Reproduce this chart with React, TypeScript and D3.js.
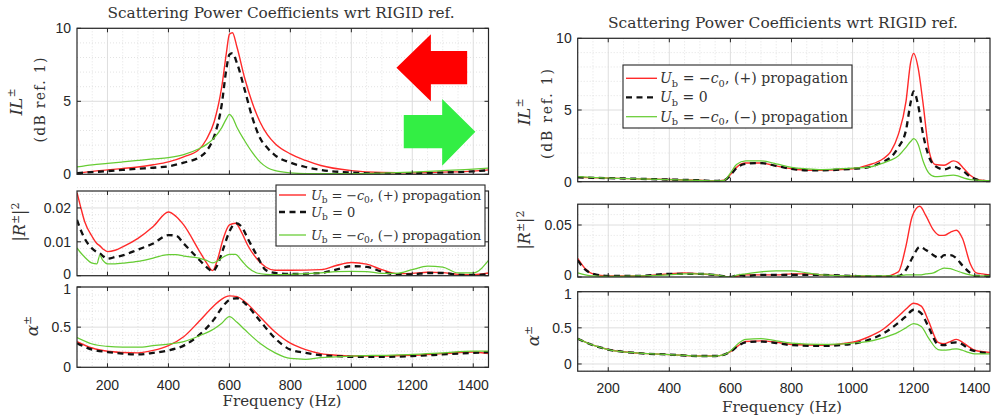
import React from 'react';
import * as d3 from 'd3';

const SANS = '"Liberation Sans", Arial, sans-serif';
const SERIF = '"DejaVu Serif", "Liberation Serif", serif';
const AXIS = '#262626';
const TEXT = '#333333';
const RED = '#ff2a2a';
const GREEN = '#66cc33';
const BLACK = '#111111';

const xTickValues = [200, 400, 600, 800, 1000, 1200, 1400];

// ---------------- LEFT PANEL ----------------
const freqLeftIL = [100,150,200,250,300,350,400,450,500,525,550,575,590,600,610,625,650,675,700,725,750,800,850,900,1000,1100,1200,1300,1400,1450];
const ilLeftPlus = [0.07,0.2,0.3,0.4,0.5,0.65,0.85,1.2,1.7,2.4,3.6,6.0,8.3,9.6,9.7,8.7,6.6,4.9,3.6,2.7,2.1,1.4,0.95,0.6,0.25,0.12,0.1,0.15,0.22,0.3];
const ilLeftZero = [0.08,0.15,0.22,0.3,0.38,0.45,0.55,0.8,1.15,1.6,2.6,4.8,7.2,8.2,8.3,7.6,5.8,3.9,2.5,1.8,1.3,0.8,0.5,0.3,0.12,0.05,0.08,0.12,0.2,0.28];
const ilLeftMinus = [0.5,0.65,0.75,0.85,0.95,1.05,1.15,1.35,1.75,2.05,2.5,3.2,3.8,4.1,3.9,3.2,2.3,1.5,0.85,0.45,0.25,0.1,0.05,0.05,0.05,0.08,0.15,0.25,0.35,0.42];

const freqLeftR = [100,110,125,150,165,175,185,200,225,250,300,350,400,425,450,500,525,545,560,580,600,620,640,660,690,720,750,800,900,950,1000,1050,1100,1150,1200,1250,1300,1350,1400,1450];
const rLeftPlus = [0.0245,0.021,0.016,0.0115,0.0095,0.0088,0.0079,0.0071,0.0075,0.0085,0.011,0.0145,0.0188,0.0175,0.015,0.0075,0.0038,0.0015,0.0045,0.011,0.015,0.0155,0.0128,0.009,0.005,0.0025,0.0016,0.0016,0.0018,0.003,0.0039,0.0034,0.0018,0.0006,0.0007,0.001,0.0009,0.0004,0.0003,0.0008];
const rLeftZero = [0.0165,0.014,0.011,0.008,0.007,0.0066,0.0058,0.005,0.0055,0.006,0.0077,0.0095,0.012,0.0118,0.0095,0.0048,0.0025,0.0013,0.003,0.008,0.013,0.0155,0.0145,0.011,0.006,0.0016,0.0008,0.0005,0.0008,0.0018,0.0028,0.0026,0.0012,0.0004,0.0004,0.0008,0.0008,0.0003,0.0002,0.0005];
const rLeftMinus = [0.0082,0.007,0.0055,0.0037,0.0035,0.006,0.0045,0.0035,0.0035,0.0037,0.0042,0.0052,0.0062,0.0062,0.0058,0.0052,0.0045,0.0038,0.0043,0.0055,0.0063,0.0063,0.0045,0.0025,0.0008,0.0004,0.0003,0.0004,0.0008,0.0012,0.0013,0.0012,0.0007,0.0007,0.0018,0.0028,0.0025,0.0008,0.0008,0.0045];

const freqLeftA = [100,150,200,250,300,350,400,450,500,550,575,600,625,650,700,750,800,850,900,950,1000,1100,1200,1300,1400,1450];
const aLeftPlus = [0.32,0.24,0.2,0.185,0.18,0.21,0.27,0.38,0.57,0.77,0.85,0.89,0.88,0.82,0.63,0.44,0.3,0.22,0.17,0.15,0.14,0.14,0.15,0.17,0.19,0.17];
const aLeftZero = [0.3,0.22,0.19,0.17,0.16,0.18,0.21,0.27,0.4,0.6,0.74,0.84,0.86,0.8,0.58,0.36,0.22,0.18,0.15,0.14,0.13,0.13,0.14,0.16,0.18,0.19];
const aLeftMinus = [0.37,0.29,0.26,0.25,0.25,0.27,0.29,0.32,0.39,0.48,0.55,0.63,0.56,0.47,0.3,0.18,0.11,0.1,0.12,0.13,0.14,0.15,0.16,0.18,0.2,0.2];

// ---------------- RIGHT PANEL ----------------
const freqRightIL = [100,200,300,400,500,550,580,600,620,650,700,750,800,850,900,1000,1050,1100,1125,1150,1175,1190,1200,1215,1230,1250,1270,1300,1330,1345,1365,1385,1415,1450];
const ilRightPlus = [0.3,0.25,0.2,0.15,0.1,0.05,0.1,0.5,1.0,1.3,1.3,1.1,0.9,0.8,0.8,0.9,1.15,1.6,2.1,3.3,5.6,8.3,8.95,7.9,5.6,2.2,1.2,1.15,1.45,1.35,0.9,0.45,0.12,0.05];
const ilRightZero = [0.3,0.25,0.2,0.15,0.1,0.05,0.1,0.45,0.95,1.25,1.3,1.1,0.9,0.8,0.8,0.9,1.0,1.4,1.7,2.4,3.6,5.5,6.3,5.3,3.4,1.75,1.1,0.85,1.05,0.95,0.7,0.35,0.1,0.03];
const ilRightMinus = [0.35,0.25,0.2,0.15,0.1,0.05,0.1,0.6,1.2,1.45,1.45,1.25,1.0,0.9,0.85,0.95,1.0,1.3,1.5,1.8,2.4,2.8,3.0,2.6,1.5,0.6,0.35,0.4,0.45,0.4,0.25,0.15,0.1,0.08];

const freqRightR = [100,125,150,200,300,400,450,500,550,600,625,650,700,750,800,850,900,1000,1100,1150,1175,1195,1220,1240,1265,1285,1300,1320,1340,1360,1385,1405,1425,1450];
const rRightPlus = [0.018,0.008,0.003,0.001,0.001,0.003,0.004,0.003,0.002,0.0,0.001,0.002,0.002,0.002,0.003,0.003,0.002,0.001,0.0005,0.005,0.03,0.058,0.068,0.059,0.045,0.04,0.04,0.043,0.045,0.037,0.013,0.004,0.003,0.002];
const rRightZero = [0.016,0.007,0.003,0.001,0.001,0.003,0.003,0.003,0.002,0.0,0.002,0.001,0.002,0.002,0.002,0.002,0.002,0.001,0.0005,0.001,0.007,0.018,0.029,0.026,0.021,0.018,0.021,0.021,0.018,0.011,0.004,0.001,0.001,0.001];
const rRightMinus = [0.004,0.002,0.001,0.0005,0.001,0.002,0.003,0.003,0.002,0.0,0.002,0.003,0.005,0.006,0.006,0.004,0.002,0.001,0.001,0.001,0.002,0.002,0.002,0.003,0.004,0.007,0.0085,0.008,0.006,0.004,0.002,0.001,0.001,0.001];

const freqRightA = [100,150,200,300,400,500,550,580,600,625,650,700,750,800,900,1000,1050,1100,1150,1175,1200,1225,1250,1280,1300,1320,1340,1360,1380,1400,1450];
const aRightPlus = [0.35,0.26,0.2,0.15,0.13,0.11,0.11,0.13,0.17,0.25,0.31,0.32,0.3,0.27,0.26,0.3,0.37,0.48,0.66,0.76,0.84,0.8,0.58,0.3,0.28,0.31,0.34,0.3,0.24,0.19,0.16];
const aRightZero = [0.35,0.26,0.2,0.15,0.13,0.11,0.11,0.13,0.17,0.25,0.3,0.31,0.29,0.26,0.25,0.28,0.33,0.42,0.57,0.66,0.75,0.7,0.5,0.27,0.26,0.29,0.3,0.27,0.21,0.18,0.15];
const aRightMinus = [0.35,0.26,0.2,0.15,0.13,0.11,0.11,0.13,0.18,0.28,0.34,0.35,0.32,0.29,0.27,0.29,0.31,0.36,0.44,0.5,0.56,0.52,0.35,0.2,0.19,0.2,0.21,0.19,0.16,0.14,0.14];

// arrows (in data units of the left IL subplot: [freq, IL])
const redArrow = [[1148,7.3],[1261,9.6],[1261,8.45],[1380,8.45],[1380,6.16],[1261,6.16],[1261,5.0]];
const greenArrow = [[1172,4.06],[1298,4.06],[1298,5.16],[1407,2.92],[1298,0.59],[1298,1.78],[1172,1.78]];

type SeriesDef = { values: number[]; color: string; width: number; dash?: string };

const mkSeries = (p: number[], z: number[], m: number[]): SeriesDef[] => [
  { values: p, color: RED, width: 1.4 },
  { values: z, color: BLACK, width: 2.3, dash: '6,4.5' },
  { values: m, color: GREEN, width: 1.25 },
];

type SubProps = {
  id: string;
  x0: number; x1: number; y0: number; y1: number;
  yDomain: [number, number];
  yTicks: number[];
  yMinorStep: number;
  freq: number[];
  series: SeriesDef[];
  xLabels: boolean;
  xLabelY?: number;
  labelShift?: Record<string, number>;
  children?: (x: d3.ScaleLinear<number, number>, y: d3.ScaleLinear<number, number>) => React.ReactNode;
};

function Subplot(p: SubProps) {
  const x = d3.scaleLinear().domain([100, 1450]).range([p.x0, p.x1]);
  const y = d3.scaleLinear().domain(p.yDomain).range([p.y1, p.y0]);
  const xMinor = d3.range(150, 1450, 50).filter((v) => v % 200 !== 0);
  const [lo, hi] = p.yDomain;
  const nMinor = Math.round((hi - lo) / p.yMinorStep);
  const yMinor: number[] = [];
  for (let i = 0; i <= nMinor; i++) {
    const v = lo + i * p.yMinorStep;
    if (!p.yTicks.some((t) => Math.abs(t - v) < p.yMinorStep * 0.01)) yMinor.push(v);
  }
  const line = (vals: number[]) =>
    d3.line<number>()
      .x((_, i) => x(p.freq[i]))
      .y((d) => y(d))
      .curve(d3.curveMonotoneX)(vals) || '';
  const tk = 4;
  return (
    <g>
      <defs>
        <clipPath id={p.id}>
          <rect x={p.x0} y={p.y0} width={p.x1 - p.x0} height={p.y1 - p.y0} />
        </clipPath>
      </defs>
      <rect x={p.x0} y={p.y0} width={p.x1 - p.x0} height={p.y1 - p.y0} fill="#fff" />
      {xMinor.map((v) => (
        <line key={'xm' + v} x1={x(v)} x2={x(v)} y1={p.y0} y2={p.y1} stroke="#d0d0d0" strokeWidth={0.6} strokeDasharray="1,2" />
      ))}
      {yMinor.map((v, i) => (
        <line key={'ym' + i} x1={p.x0} x2={p.x1} y1={y(v)} y2={y(v)} stroke="#d0d0d0" strokeWidth={0.6} strokeDasharray="1,2" />
      ))}
      {xTickValues.map((v) => (
        <line key={'xg' + v} x1={x(v)} x2={x(v)} y1={p.y0} y2={p.y1} stroke="#dadada" strokeWidth={0.9} />
      ))}
      {p.yTicks.map((v) => (
        <line key={'yg' + v} x1={p.x0} x2={p.x1} y1={y(v)} y2={y(v)} stroke="#dadada" strokeWidth={0.9} />
      ))}
      <g clipPath={`url(#${p.id})`}>
        {p.series.map((s, i) => (
          <path key={i} d={line(s.values)} fill="none" stroke={s.color} strokeWidth={s.width}
            strokeDasharray={s.dash} strokeLinejoin="round" />
        ))}
        {p.children && p.children(x, y)}
      </g>
      {xTickValues.map((v) => (
        <g key={'xt' + v}>
          <line x1={x(v)} x2={x(v)} y1={p.y1} y2={p.y1 - tk} stroke={AXIS} strokeWidth={1} />
          <line x1={x(v)} x2={x(v)} y1={p.y0} y2={p.y0 + tk} stroke={AXIS} strokeWidth={1} />
        </g>
      ))}
      {p.yTicks.map((v) => (
        <g key={'yt' + v}>
          <line x1={p.x0} x2={p.x0 + tk} y1={y(v)} y2={y(v)} stroke={AXIS} strokeWidth={1} />
          <line x1={p.x1} x2={p.x1 - tk} y1={y(v)} y2={y(v)} stroke={AXIS} strokeWidth={1} />
          <text x={p.x0 - 6} y={y(v) + ((p.labelShift && p.labelShift[String(v)]) || 0)} dy="0.36em" textAnchor="end" fontFamily={SANS} fontSize={14} fill={AXIS}>
            {String(v)}
          </text>
        </g>
      ))}
      {p.xLabels && xTickValues.map((v) => (
        <text key={'xl' + v} x={x(v)} y={p.xLabelY} textAnchor="middle" fontFamily={SANS} fontSize={14} fill={AXIS}>
          {v}
        </text>
      ))}
      <rect x={p.x0} y={p.y0} width={p.x1 - p.x0} height={p.y1 - p.y0} fill="none" stroke={AXIS} strokeWidth={1.2} />
    </g>
  );
}

function RotLabel({ cx, cy, size, len, children }: { cx: number; cy: number; size: number; len?: number; children: React.ReactNode }) {
  return (
    <text transform={`translate(${cx},${cy}) rotate(-90)`} textAnchor="middle" dy="0.35em"
      fontFamily={SERIF} fontSize={size} fill={TEXT} textLength={len} lengthAdjust={len ? 'spacing' : undefined}>
      {children}
    </text>
  );
}

function LegendText({ x, y, size, kind, len }: { x: number; y: number; size: number; kind: number; len?: number }) {
  const sub = size * 0.7;
  const d = size * 0.25;
  return (
    <text x={x} y={y} dy="0.35em" fontFamily={SERIF} fontSize={size} fill={TEXT} textLength={len} lengthAdjust={len ? 'spacing' : undefined}>
      <tspan fontStyle="italic">U</tspan>
      <tspan fontSize={sub} dy={d}>b</tspan>
      {kind === 0 ? (
        <tspan dy={-d}>{' = 0'}</tspan>
      ) : (
        <>
          <tspan dy={-d}>{' = \u2212'}</tspan>
          <tspan fontStyle="italic">c</tspan>
          <tspan fontSize={sub} dy={d}>0</tspan>
          <tspan dy={-d}>{kind === 1 ? ', (+) propagation' : ', (\u2212) propagation'}</tspan>
        </>
      )}
    </text>
  );
}

function Legend({ x, y, w, h, rows, lineX0, lineX1, textX, size, len }:
  { x: number; y: number; w: number; h: number; rows: number[]; lineX0: number; lineX1: number; textX: number; size: number; len: number }) {
  const kinds = [1, 0, -1];
  const styles = mkSeries([], [], []);
  return (
    <g>
      <rect x={x} y={y} width={w} height={h} fill="#fff" stroke={AXIS} strokeWidth={1.1} />
      {rows.map((ry, i) => (
        <g key={i}>
          <line x1={lineX0} x2={lineX1} y1={ry} y2={ry} stroke={styles[i].color} strokeWidth={styles[i].width} strokeDasharray={styles[i].dash} />
          <LegendText x={textX} y={ry} size={size} kind={kinds[i]} len={kinds[i] === 0 ? undefined : len} />
        </g>
      ))}
    </g>
  );
}

function SupLabel({ base, italic, sup }: { base: string; italic?: boolean; sup: string }) {
  return (
    <>
      <tspan fontStyle={italic ? 'italic' : undefined}>{base}</tspan>
      <tspan fontSize={11} dy={-7}>{sup}</tspan>
    </>
  );
}

const TITLE = 'Scattering Power Coefficients wrt RIGID ref.';

export default function App() {
  const arrowPath = (pts: number[][], x: d3.ScaleLinear<number, number>, y: d3.ScaleLinear<number, number>) =>
    'M' + pts.map((q) => `${x(q[0])},${y(q[1])}`).join('L') + 'Z';
  const rLabel = (
    <>
      <tspan>|</tspan><tspan fontStyle="italic">R</tspan><tspan fontSize={11} dy={-6}>±</tspan><tspan dy={6}>|</tspan><tspan fontSize={11} dy={-6}>2</tspan>
    </>
  );
  return (
    <svg width={991} height={419} style={{ position: 'absolute', left: 0, top: 0, display: 'block', background: '#fff' }}>
      <rect x={0} y={0} width={991} height={419} fill="#fff" />
      {/* LEFT PANEL */}
      <text x={281} y={18} textAnchor="middle" fontFamily={SERIF} fontSize={14} fill={TEXT} textLength={347} lengthAdjust="spacingAndGlyphs">{TITLE}</text>
      <Subplot id="lc1" x0={77} x1={488.5} y0={28.3} y1={174.3} yDomain={[0, 10]} yTicks={[0, 5, 10]} yMinorStep={1}
        freq={freqLeftIL} series={mkSeries(ilLeftPlus, ilLeftZero, ilLeftMinus)} xLabels={false}>
        {(x, y) => (
          <g>
            <path d={arrowPath(redArrow, x, y)} fill="#ff0000" />
            <path d={arrowPath(greenArrow, x, y)} fill="#33ee44" />
          </g>
        )}
      </Subplot>
      <Subplot id="lc2" x0={77} x1={488.5} y0={191} y1={275.7} yDomain={[0, 0.025]} yTicks={[0, 0.01, 0.02]} yMinorStep={0.002}
        freq={freqLeftR} series={mkSeries(rLeftPlus, rLeftZero, rLeftMinus)} xLabels={false} labelShift={{ '0': -2 }} />
      <Subplot id="lc3" x0={77} x1={488.5} y0={287} y1={367.3} yDomain={[0, 1]} yTicks={[0, 0.5, 1]} yMinorStep={0.1}
        freq={freqLeftA} series={mkSeries(aLeftPlus, aLeftZero, aLeftMinus)} xLabels={true} xLabelY={390} labelShift={{ '1': 2 }} />
      <Legend x={276} y={185} w={209} h={61} rows={[195, 212, 235]} lineX0={279} lineX1={306} textX={311} size={13} len={170} />
      <text x={282} y={406} textAnchor="middle" fontFamily={SERIF} fontSize={14} fill={TEXT} textLength={119} lengthAdjust="spacingAndGlyphs">Frequency (Hz)</text>
      <RotLabel cx={16} cy={102} size={17}><SupLabel base="IL" italic sup="±" /></RotLabel>
      <RotLabel cx={40} cy={100} size={14} len={85}>(dB ref. 1)</RotLabel>
      <RotLabel cx={19} cy={222} size={16}>{rLabel}</RotLabel>
      <RotLabel cx={32} cy={326} size={17}><SupLabel base="α" italic sup="±" /></RotLabel>

      {/* RIGHT PANEL */}
      <text x={783} y={28} textAnchor="middle" fontFamily={SERIF} fontSize={14} fill={TEXT} textLength={350} lengthAdjust="spacingAndGlyphs">{TITLE}</text>
      <Subplot id="rc1" x0={577.7} x1={990} y0={38.3} y1={181.7} yDomain={[0, 10]} yTicks={[0, 5, 10]} yMinorStep={1}
        freq={freqRightIL} series={mkSeries(ilRightPlus, ilRightZero, ilRightMinus)} xLabels={false} />
      <Subplot id="rc2" x0={577.7} x1={990} y0={204.2} y1={277} yDomain={[0, 0.07]} yTicks={[0, 0.05]} yMinorStep={0.01}
        freq={freqRightR} series={mkSeries(rRightPlus, rRightZero, rRightMinus)} xLabels={false} labelShift={{ '0': -2 }} />
      <Subplot id="rc3" x0={577.7} x1={990} y0={291.7} y1={371.2} yDomain={[-0.1, 1]} yTicks={[0, 0.5, 1]} yMinorStep={0.1}
        freq={freqRightA} series={mkSeries(aRightPlus, aRightZero, aRightMinus)} xLabels={true} xLabelY={393} labelShift={{ '1': 2 }} />
      <Legend x={623} y={65} w={229} h={63} rows={[78.3, 97.3, 116.7]} lineX0={626} lineX1={657} textX={660} size={14} len={188} />
      <text x={782} y={412} textAnchor="middle" fontFamily={SERIF} fontSize={14} fill={TEXT} textLength={120} lengthAdjust="spacingAndGlyphs">Frequency (Hz)</text>
      <RotLabel cx={524} cy={112} size={17}><SupLabel base="IL" italic sup="±" /></RotLabel>
      <RotLabel cx={547} cy={114} size={14} len={90}>(dB ref. 1)</RotLabel>
      <RotLabel cx={524} cy={230} size={16}>{rLabel}</RotLabel>
      <RotLabel cx={533} cy={336} size={17}><SupLabel base="α" italic sup="±" /></RotLabel>
    </svg>
  );
}
